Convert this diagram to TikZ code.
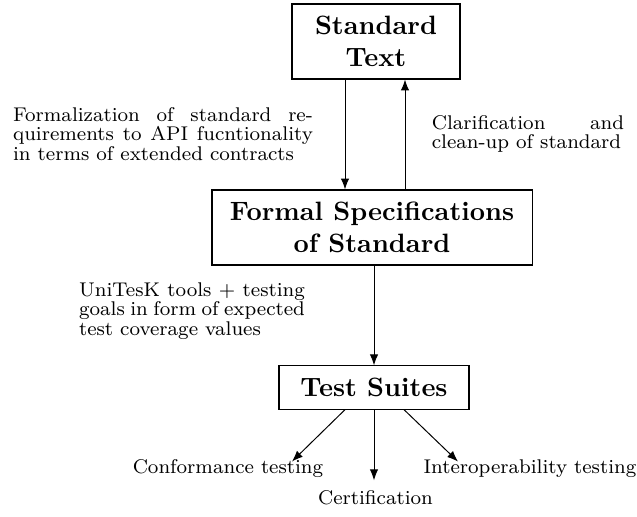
\RequirePackage{fix-cm}
\documentclass[tikz,border=0pt]{standalone}
\usetikzlibrary{arrows.meta,calc}
\begin{document}
\begin{tikzpicture}[x=0.403pt,y=-0.403pt,
  box/.style={draw,line width=0.45pt,font={\fontsize{10.7}{13}\selectfont\bfseries},align=center,inner sep=0pt},
  note/.style={font={\fontsize{8}{7.8}\selectfont},align=justify,inner sep=0pt},
  lbl/.style={font=\footnotesize,inner sep=0pt},
  arr/.style={-{Latex[length=4.4pt,width=3.4pt]},line width=0.4pt}]
\useasboundingbox (0,0) rectangle (637,516);

% main boxes
\node[box,minimum width=67.7pt,minimum height=30.2pt] (st) at (376,41.5) {Standard\\Text};
\node[box,minimum width=129pt,minimum height=30.2pt] (fs) at (372,227.5) {Formal Specifications\\of Standard};
\node[box,minimum width=76.6pt,minimum height=17.4pt] (ts) at (374,387.5) {Test Suites};

% side notes
\node[note,text width=120.8pt] (n1) at (163,134) {Formalization of standard re-\linebreak quirements to API fucntionality\linebreak in terms of extended contracts};
\node[note,text width=77.5pt] (n2) at (528,134) {Clarification and\linebreak clean-up of standard};
\node[note,text width=91pt] (n3) at (192,311) {UniTesK tools + testing\linebreak goals in form of expected\linebreak test coverage values};

% outcomes
\node[lbl] (c1) at (228,469) {Conformance testing};
\node[lbl] (c2) at (375.5,498) {Certification};
\node[lbl] (c3) at (530,469) {Interoperability testing};

% connectors
\draw[arr] ($(st.south)+(-31,0)$) -- ($(fs.north)+(-27,0)$);
\draw[arr] ($(fs.north)+(33,0)$) -- ($(st.south)+(29,0)$);
\draw[arr] (fs.south -| ts.north) -- (ts.north);
\draw[arr] ($(ts.south)+(-29,0)$) -- ($(c1.north)+(64,2)$);
\draw[arr] (ts.south) -- ($(c2.north)+(-1.5,-10)$);
\draw[arr] ($(ts.south)+(30,0)$) -- ($(c3.north)+(-72,2)$);
\end{tikzpicture}
\end{document}
